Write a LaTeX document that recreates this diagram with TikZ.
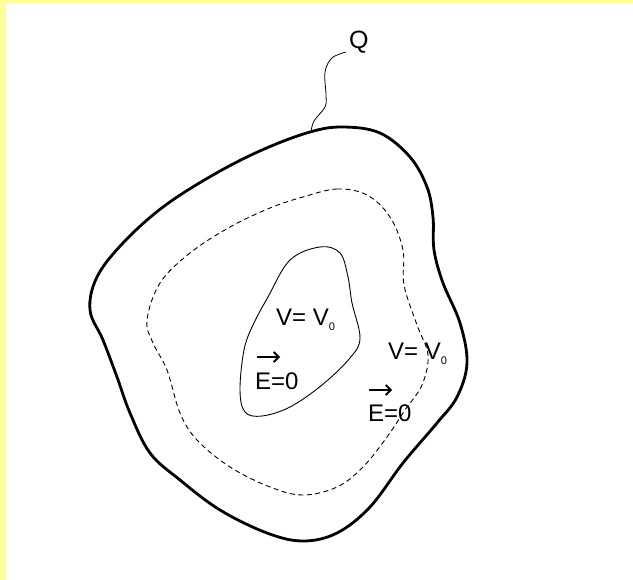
\documentclass[tikz,border=0pt]{standalone}
\usepackage{fontspec}
\setmainfont{Liberation Sans}
\usetikzlibrary{arrows.meta}
\definecolor{pageyellow}{HTML}{FFFF99}
\tikzset{
  outer/.style={line width=2.8pt, line join=round},
  equi/.style={line width=0.9pt, dash pattern=on 5pt off 3.5pt},
  innerc/.style={line width=0.9pt},
  leader/.style={line width=0.8pt},
  lbl/.style={anchor=base west, inner sep=0pt, font=\fontsize{24}{28}\selectfont},
  vec/.style={line width=1.3pt, -{Straight Barb[length=5pt,width=10pt,line width=1.8pt]}}
}
\newcommand{\subzero}{\raisebox{-5pt}{\fontsize{11}{11}\selectfont 0}}
\begin{document}
\begin{tikzpicture}[x=1pt,y=-1pt]
\useasboundingbox (0,0) rectangle (633,580);
\fill[white] (0,0) rectangle (633,580);
\fill[pageyellow] (0,0) rectangle (6,580);
\fill[pageyellow] (0,0) rectangle (633,4);

% outer conductor surface
\draw[outer] plot[smooth cycle, tension=0.6] coordinates {
 (310,132) (343,127) (380,133) (410,157) (427,187) (433,217) (434,250)
 (443,283) (460,323) (467,363) (457,397) (437,423) (403,463) (370,507)
 (337,533) (303,541) (267,533) (220,510) (180,480) (150,453) (130,413)
 (117,377) (103,340) (90,310) (97,277) (123,243) (163,207) (213,175) (262,150)};

% dashed equipotential
\draw[equi] plot[smooth cycle, tension=0.6] coordinates {
 (303,197) (337,189) (367,195) (390,217) (403,250) (404,285) (417,325)
 (428,355) (422,385) (405,410) (387,437) (363,467) (337,487) (303,495)
 (270,487) (230,467) (197,440) (180,413) (167,370) (153,343) (147,320)
 (160,283) (190,253) (230,227) (270,208)};

% inner closed curve
\draw[innerc] plot[smooth cycle, tension=0.6] coordinates {
 (290,260) (320,247) (340,253) (348,277) (352,303) (360,338) (350,358)
 (322,385) (290,407) (262,416) (245,412) (240,390) (244,350) (253,325) (268,297)};

% labels
\node[lbl, font=\fontsize{25}{28}\selectfont] (Q) at (349,49) {Q};
\coordinate (qfoot) at (311,132);
\draw[leader] plot[smooth, tension=0.6] coordinates {(qfoot) (314,121) (325,107) (326,95) (325,72) (332,58) (346,52)};

\node[lbl] (V1) at (276,326) {V= V\subzero};
\node[lbl] (E1) at (255,390) {E=0};
\draw[vec] ([xshift=2pt,yshift=33pt]E1.base west) -- ++(23,0);

\node[lbl] (V2) at (388,360) {V= V\subzero};
\node[lbl] (E2) at (368,422) {E=0};
\draw[vec] ([xshift=1pt,yshift=32pt]E2.base west) -- ++(23,0);
\end{tikzpicture}
\end{document}
